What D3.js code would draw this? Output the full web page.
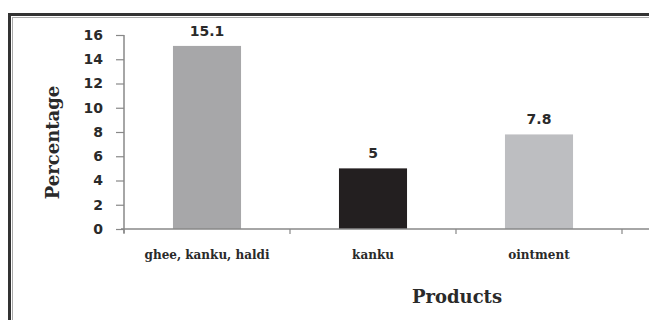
<!DOCTYPE html>
<html>
<head>
<meta charset="utf-8">
<script src="https://cdn.jsdelivr.net/npm/d3@7"></script>
<style>
  html, body { margin: 0; padding: 0; background: #fff; }
  svg { display: block; }
</style>
</head>
<body>
<script>
// Share of respondents using each product
const categories = ["ghee, kanku, haldi", "kanku", "ointment"];
const values = [15.1, 5, 7.8];
const barColors = ["#a7a7a9", "#231f20", "#bdbec1"];
const yTicks = [0, 2, 4, 6, 8, 10, 12, 14, 16];

const W = 649, H = 320;
const svg = d3.select("body").append("svg").attr("width", W).attr("height", H);

// double frame round the chart, running off the right and bottom edges
svg.append("rect").attr("x", 9.5).attr("y", 14.5).attr("width", 700).attr("height", 400)
  .attr("fill", "none").attr("stroke", "#333").attr("stroke-width", 3);
svg.append("rect").attr("x", 12.5).attr("y", 17.5).attr("width", 700).attr("height", 400)
  .attr("fill", "none").attr("stroke", "#aaa").attr("stroke-width", 1);

const plot = { left: 124, right: 622, top: 35, bottom: 229 };

const x = d3.scaleBand().domain(categories).range([plot.left, plot.right]).padding(0);
const y = d3.scaleLinear().domain([0, 16]).range([plot.bottom, plot.top]);

const axisColor = "#888";
const textColor = "#2a2a2a";

// y axis
const yAxis = svg.append("g").attr("transform", `translate(${plot.left},0)`)
  .call(d3.axisLeft(y).tickValues(yTicks).tickSize(8).tickPadding(13).tickSizeOuter(0));
yAxis.select(".domain").attr("stroke", axisColor).attr("stroke-width", 1.5)
  .attr("d", `M0,${plot.top}V${plot.bottom + 4}`);
yAxis.selectAll(".tick line").attr("stroke", axisColor).attr("stroke-width", 1.2);
yAxis.selectAll(".tick text")
  .attr("fill", textColor)
  .style("font-family", "'DejaVu Sans', Verdana, sans-serif")
  .style("font-weight", "bold")
  .style("font-size", "14px");

// bars
const barW = x.bandwidth() * 0.41;
svg.append("g").selectAll("rect").data(values).join("rect")
  .attr("x", (d, i) => x(categories[i]) + (x.bandwidth() - barW) / 2)
  .attr("y", d => y(d))
  .attr("width", barW)
  .attr("height", d => y(0) - y(d))
  .attr("fill", (d, i) => barColors[i]);

// x axis: line running to the frame edge, ticks at band boundaries
svg.append("line")
  .attr("x1", plot.left - 3).attr("x2", W)
  .attr("y1", plot.bottom).attr("y2", plot.bottom)
  .attr("stroke", axisColor).attr("stroke-width", 1.5);
const bounds = categories.map(c => x(c)).concat([x(categories[categories.length - 1]) + x.bandwidth()]);
svg.append("g").selectAll("line").data(bounds).join("line")
  .attr("x1", d => d).attr("x2", d => d)
  .attr("y1", plot.bottom).attr("y2", plot.bottom + 5)
  .attr("stroke", axisColor).attr("stroke-width", 1.2);

// category labels
svg.append("g").selectAll("text").data(categories).join("text")
  .attr("x", d => x(d) + x.bandwidth() / 2)
  .attr("y", 259)
  .attr("text-anchor", "middle")
  .attr("fill", textColor)
  .style("font-family", "'DejaVu Serif', serif")
  .style("font-weight", "bold")
  .style("font-size", "12px")
  .text(d => d);

// value labels above bars
svg.append("g").selectAll("text").data(values).join("text")
  .attr("x", (d, i) => x(categories[i]) + x.bandwidth() / 2)
  .attr("y", d => y(d) - 10)
  .attr("text-anchor", "middle")
  .attr("fill", textColor)
  .style("font-family", "'DejaVu Sans', Verdana, sans-serif")
  .style("font-weight", "bold")
  .style("font-size", "14px")
  .text(d => d);

// axis titles
svg.append("text")
  .attr("transform", `translate(59,${(85 + 200) / 2}) rotate(-90)`)
  .attr("text-anchor", "middle")
  .attr("fill", textColor)
  .style("font-family", "'DejaVu Serif', serif")
  .style("font-weight", "bold")
  .style("font-size", "18px")
  .text("Percentage");

svg.append("text")
  .attr("x", 457).attr("y", 303)
  .attr("text-anchor", "middle")
  .attr("fill", textColor)
  .style("font-family", "'DejaVu Serif', serif")
  .style("font-weight", "bold")
  .style("font-size", "18px")
  .text("Products");
</script>
</body>
</html>
